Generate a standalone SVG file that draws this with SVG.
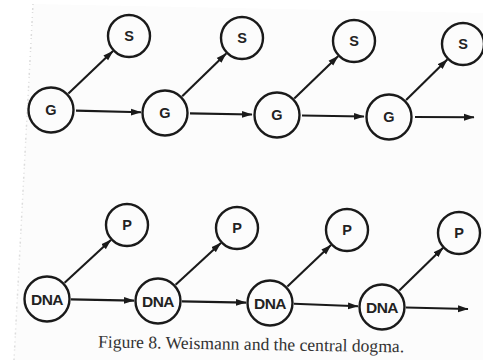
<svg xmlns="http://www.w3.org/2000/svg" width="483" height="360" viewBox="0 0 483 360">
  <style>
    .node circle { fill: none; stroke: #1a1a1a; stroke-width: 2.4; }
    .node text { font-family: "Liberation Sans", Arial, sans-serif; font-weight: bold; fill: #222; text-anchor: middle; }
    .small { font-size: 14.5px; }
    .dna { font-size: 15.5px; letter-spacing: -0.6px; }
    .edge { stroke: #1a1a1a; stroke-width: 2.1; fill: none; marker-end: url(#head); }
    .caption { font-family: "Liberation Serif", "Times New Roman", serif; font-size: 17.6px; fill: #333; }
  </style>
  <defs>
    <marker id="head" markerUnits="userSpaceOnUse" markerWidth="11" markerHeight="8" refX="10" refY="4" orient="auto">
      <path d="M0,0.6 L10.5,4 L0,7.4 z" fill="#1a1a1a"/>
    </marker>
  </defs>

  <!-- page -->
  <rect x="0" y="0" width="483" height="360" fill="#ffffff"/>
  <polygon points="33,4 483,13 483,360 14,360" fill="#fcfcfc"/>
  <polyline points="33,4 14,360" fill="none" stroke="#dcdcdc" stroke-width="1.5" stroke-dasharray="1 3 2 2 1 4"/>

  <!-- connectors -->
  <g id="connectors">
    <!-- G chain -->
    <line class="edge" x1="76" y1="110.6" x2="141" y2="112.3"/>
    <line class="edge" x1="190" y1="113.4" x2="252" y2="114.5"/>
    <line class="edge" x1="302" y1="115.5" x2="364" y2="116.5"/>
    <line class="edge" x1="415" y1="117" x2="474" y2="117.3"/>
    <line class="edge" x1="68.4" y1="93.5" x2="113" y2="51"/>
    <line class="edge" x1="182.2" y1="96.2" x2="226.2" y2="53.4"/>
    <line class="edge" x1="294.3" y1="98.4" x2="338.1" y2="56.2"/>
    <line class="edge" x1="406.1" y1="100.1" x2="447.3" y2="59.5"/>
    <!-- DNA chain -->
    <line class="edge" x1="71" y1="299.4" x2="134" y2="300.6"/>
    <line class="edge" x1="182" y1="301.4" x2="246" y2="302.6"/>
    <line class="edge" x1="294" y1="303.8" x2="358" y2="306.2"/>
    <line class="edge" x1="406" y1="307.5" x2="468" y2="309"/>
    <line class="edge" x1="64.6" y1="282.7" x2="110.9" y2="239.9"/>
    <line class="edge" x1="175.6" y1="284.7" x2="220.9" y2="242.9"/>
    <line class="edge" x1="287.4" y1="286.5" x2="331" y2="245.1"/>
    <line class="edge" x1="399.3" y1="290.4" x2="443.1" y2="247.8"/>
  </g>

  <!-- G / S row -->
  <g id="g1" class="node"><circle cx="51" cy="110" r="22.5"/><text class="small" x="51" y="115.2">G</text></g>
  <g id="s1" class="node"><circle cx="129" cy="36" r="21"/><text class="small" x="129" y="41.2">S</text></g>
  <g id="g2" class="node"><circle cx="165" cy="113" r="22.5"/><text class="small" x="165" y="118.2">G</text></g>
  <g id="s2" class="node"><circle cx="242" cy="38" r="21"/><text class="small" x="242" y="43.2">S</text></g>
  <g id="g3" class="node"><circle cx="277" cy="115" r="22.5"/><text class="small" x="277" y="120.2">G</text></g>
  <g id="s3" class="node"><circle cx="354" cy="41" r="21"/><text class="small" x="354" y="46.2">S</text></g>
  <g id="g4" class="node"><circle cx="389" cy="117" r="22.5"/><text class="small" x="389" y="122.2">G</text></g>
  <g id="s4" class="node"><circle cx="463" cy="44" r="21"/><text class="small" x="463" y="49.2">S</text></g>

  <!-- DNA / P row -->
  <g id="dna1" class="node"><circle cx="47" cy="299" r="22.5"/><text class="dna" x="47" y="304.5">DNA</text></g>
  <g id="p1" class="node"><circle cx="127" cy="225" r="21"/><text class="small" x="127" y="230.2">P</text></g>
  <g id="dna2" class="node"><circle cx="158" cy="301" r="22.5"/><text class="dna" x="158" y="306.5">DNA</text></g>
  <g id="p2" class="node"><circle cx="237" cy="228" r="21"/><text class="small" x="237" y="233.2">P</text></g>
  <g id="dna3" class="node"><circle cx="270" cy="303" r="22.5"/><text class="dna" x="270" y="308.5">DNA</text></g>
  <g id="p3" class="node"><circle cx="347" cy="230" r="21"/><text class="small" x="347" y="235.2">P</text></g>
  <g id="dna4" class="node"><circle cx="382" cy="307" r="22.5"/><text class="dna" x="382" y="312.5">DNA</text></g>
  <g id="p4" class="node"><circle cx="459" cy="233" r="21"/><text class="small" x="459" y="238.2">P</text></g>

  <!-- caption -->
  <text class="caption" x="98" y="347.5" transform="rotate(0.9 98 347.5)">Figure 8. Weismann and the central dogma.</text>
</svg>
